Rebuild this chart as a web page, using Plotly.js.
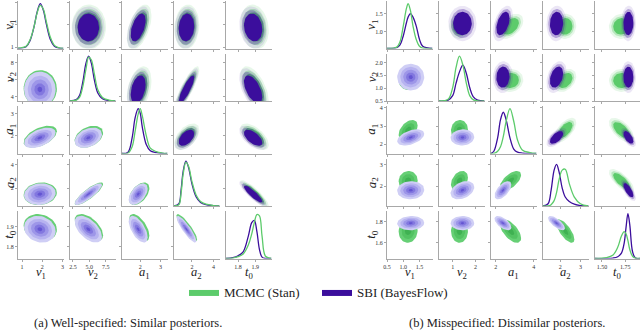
<!DOCTYPE html>
<html>
<head>
<meta charset="utf-8">
<script src="https://cdn.plot.ly/plotly-3.0.1.min.js"></script>
<style>html,body{margin:0;padding:0;background:#fff}#fig{width:640px;height:332px}</style>
</head>
<body>
<div id="fig"></div>
<script>
// parameter names, shared by both panels
var paramLabels = ['<i>v</i><sub>1</sub>', '<i>v</i><sub>2</sub>', '<i>a</i><sub>1</sub>', '<i>a</i><sub>2</sub>', '<i>t</i><sub>0</sub>'];
var seriesNames = ['MCMC (Stan)', 'SBI (BayesFlow)'];
var captions = ['(a) Well-specified: Similar posteriors.', '(b) Misspecified: Dissimilar posteriors.'];

// pair order for correlations: (v1,v2),(v1,a1),(v1,a2),(v1,t0),(v2,a1),(v2,a2),(v2,t0),(a1,a2),(a1,t0),(a2,t0)

// ---- (a) well-specified ----
var aMeanSBI  = [1.88, 4.85, 1.90, 1.50, 1.888];
var aMeanMCMC = [1.90, 4.93, 1.95, 1.53, 1.896];
var aSdSBI    = [0.30, 0.80, 0.18, 0.35, 0.026];
var aSdMCMC   = [0.31, 0.82, 0.19, 0.36, 0.026];
var aCorr     = [0.0, 0.5, 0.1, -0.15, 0.35, 0.85, -0.55, 0.5, -0.6, -0.88];

var aDiagX = [
  [0.8, 1.2, 1.4, 1.6, 1.75, 1.9, 2.05, 2.2, 2.4, 2.6, 2.8, 3.05],
  [2.05, 3.0, 3.5, 4.0, 4.5, 4.9, 5.3, 5.8, 6.3, 7.0, 8.0, 9.0],
  [1.1, 1.4, 1.6, 1.75, 1.9, 2.0, 2.1, 2.3, 2.5, 2.8, 3.1, 3.35],
  [0.35, 0.8, 1.0, 1.2, 1.45, 1.7, 2.0, 2.4, 2.8, 3.3, 4.0, 4.55],
  [1.73, 1.77, 1.8, 1.83, 1.86, 1.88, 1.895, 1.91, 1.925, 1.94, 1.96, 1.995]
];
var aDiagSBI = [
  [0, 0.04, 0.18, 0.5, 0.82, 1.0, 0.86, 0.55, 0.2, 0.05, 0.01, 0],
  [0, 0.03, 0.12, 0.42, 0.85, 1.0, 0.85, 0.45, 0.18, 0.05, 0.01, 0],
  [0, 0.03, 0.35, 0.8, 1.0, 0.9, 0.6, 0.2, 0.06, 0.02, 0, 0],
  [0, 0.05, 0.35, 0.78, 1.0, 0.85, 0.5, 0.2, 0.08, 0.03, 0.01, 0],
  [0, 0.02, 0.06, 0.15, 0.5, 0.8, 0.85, 0.6, 0.2, 0.03, 0, 0]
];
var aDiagMCMC = [
  [0.01, 0.05, 0.2, 0.5, 0.8, 0.96, 0.88, 0.6, 0.25, 0.07, 0.02, 0],
  [0, 0.02, 0.08, 0.32, 0.72, 0.98, 0.92, 0.58, 0.25, 0.08, 0.02, 0],
  [0, 0.01, 0.15, 0.5, 0.88, 1.0, 0.85, 0.4, 0.12, 0.04, 0.01, 0],
  [0, 0.03, 0.28, 0.72, 0.98, 0.88, 0.55, 0.24, 0.1, 0.04, 0.01, 0],
  [0, 0.01, 0.04, 0.1, 0.3, 0.55, 0.8, 0.98, 0.95, 0.5, 0.05, 0]
];
var aXTicks = [[1, 2, 3], [2.5, 5, 7.5], [1, 2, 3], [2, 4], [1.8, 1.9]];
var aXTickText = [['1', '2', '3'], ['2.5', '5.0', '7.5'], ['1', '2', '3'], ['2', '4'], ['1.8', '1.9']];
var aYTicks = [[1, 2, 3], [4, 6, 8], [2, 3], [2, 4], [1.8, 1.9]];
var aYTickText = [['1', '2', '3'], ['4', '6', '8'], ['2', '3'], ['2', '4'], ['1.8', '1.9']];

// ---- (b) misspecified ----
var bMeanSBI  = [1.23, 1.43, 2.38, 1.82, 1.785];
var bMeanMCMC = [1.15, 1.30, 2.78, 2.25, 1.71];
var bSdSBI    = [0.16, 0.20, 0.17, 0.16, 0.026];
var bSdMCMC   = [0.11, 0.14, 0.21, 0.17, 0.042];
var bCorr     = [0.0, 0.45, 0.05, 0.05, 0.05, 0.35, 0.0, 0.6, -0.6, -0.72];

var bDiagX = [
  [0.5, 0.8, 0.9, 1.0, 1.1, 1.15, 1.22, 1.3, 1.4, 1.5, 1.6, 1.9],
  [0.4, 0.8, 1.0, 1.15, 1.3, 1.45, 1.6, 1.75, 1.9, 2.1, 2.4],
  [1.75, 1.9, 2.1, 2.25, 2.4, 2.55, 2.75, 2.95, 3.15, 3.4, 3.8, 4.15],
  [1.15, 1.4, 1.55, 1.7, 1.82, 1.95, 2.1, 2.25, 2.45, 2.7, 3.0, 3.4],
  [1.42, 1.55, 1.62, 1.67, 1.71, 1.74, 1.76, 1.78, 1.8, 1.83, 1.86, 1.91]
];
var bDiagSBI = [
  [0, 0.02, 0.08, 0.28, 0.58, 0.7, 0.78, 0.7, 0.5, 0.2, 0.05, 0],
  [0, 0.02, 0.12, 0.4, 0.65, 0.8, 0.62, 0.3, 0.1, 0.02, 0],
  [0, 0.05, 0.35, 0.75, 0.92, 0.75, 0.35, 0.1, 0.03, 0.01, 0, 0],
  [0, 0.05, 0.35, 0.8, 0.93, 0.75, 0.4, 0.2, 0.1, 0.04, 0.01, 0],
  [0, 0, 0.01, 0.04, 0.12, 0.35, 0.7, 1.0, 0.75, 0.15, 0.01, 0]
];
var bDiagMCMC = [
  [0, 0.03, 0.15, 0.5, 0.9, 1.0, 0.85, 0.5, 0.2, 0.05, 0.01, 0],
  [0, 0.04, 0.3, 0.75, 1.0, 0.8, 0.4, 0.12, 0.03, 0, 0],
  [0, 0, 0.05, 0.15, 0.38, 0.72, 1.0, 0.72, 0.3, 0.08, 0.02, 0],
  [0, 0, 0.03, 0.12, 0.3, 0.6, 0.8, 0.82, 0.5, 0.2, 0.05, 0],
  [0, 0.02, 0.08, 0.25, 0.5, 0.6, 0.55, 0.4, 0.2, 0.05, 0.01, 0]
];
var bXTicks = [[0.5, 1, 1.5], [1, 2], [2, 4], [2, 3], [1.5, 1.75]];
var bXTickText = [['0.5', '1.0', '1.5'], ['1', '2'], ['2', '4'], ['2', '3'], ['1.50', '1.75']];
var bYTicks = [[1, 1.5], [0.5, 1, 1.5, 2], [2, 3, 4], [2, 3], [1.6, 1.8]];
var bYTickText = [['1.0', '1.5'], ['0.5', '1.0', '1.5', '2.0'], ['2', '3', '4'], ['2', '3'], ['1.6', '1.8']];

// axis ranges (style, not data)
var aXRange = [[0.8, 3.05], [2.05, 9.0], [1.1, 3.35], [0.35, 4.55], [1.73, 1.995]];
var aYRange = [[0.95, 3.05], [3.5, 9.05], [1.18, 3.36], [0.5, 4.5], [1.74, 1.98]];
var bXRange = [[0.5, 1.9], [0.4, 2.4], [1.75, 4.15], [1.15, 3.4], [1.42, 1.91]];
var bYRange = [[0.53, 1.86], [0.5, 2.35], [1.5, 4.1], [1.1, 3.27], [1.45, 1.9]];

var purple = '#3b0e9c', green = '#5ccb6b';
var font = 'Liberation Serif, Times New Roman, serif';
var densTop = 1.06;

var figs = [
  {mS: aMeanSBI, mM: aMeanMCMC, sS: aSdSBI, sM: aSdMCMC, corr: aCorr, dx: aDiagX, dS: aDiagSBI, dM: aDiagMCMC,
   xt: aXTicks, xtt: aXTickText, yt: aYTicks, ytt: aYTickText, xr: aXRange, yr: aYRange,
   cols: [18, 70, 122, 174, 226], ytitle: 10},
  {mS: bMeanSBI, mM: bMeanMCMC, sS: bSdSBI, sM: bSdMCMC, corr: bCorr, dx: bDiagX, dS: bDiagSBI, dM: bDiagMCMC,
   xt: bXTicks, xtt: bXTickText, yt: bYTicks, ytt: bYTickText, xr: bXRange, yr: bYRange,
   cols: [387, 439, 491, 543, 594.5], ytitle: 372}
];
var rowsTop = [1, 53.5, 106, 158.5, 211];
var W = 640, H = 332, pw = 45.5, ph = 47.5;

function pairIndex(i, j) {
  var idx = 0;
  for (var a = 0; a < 5; a++) for (var b = a + 1; b < 5; b++) {
    if (a === i && b === j) return idx;
    idx++;
  }
}

function ellipse(mx, my, sx, sy, rho, k) {
  var xs = [], ys = [], n = 48, q = Math.sqrt(1 - rho * rho);
  for (var i = 0; i <= n; i++) {
    var t = 2 * Math.PI * i / n, c = Math.cos(t), s = Math.sin(t);
    xs.push(mx + k * sx * c);
    ys.push(my + k * sy * (rho * c + q * s));
  }
  return {x: xs, y: ys};
}

var data = [];
var layout = {
  width: W, height: H, autosize: false,
  margin: {l: 0, r: 0, t: 0, b: 0},
  paper_bgcolor: '#fff', plot_bgcolor: '#fff',
  font: {family: font, color: '#222'},
  showlegend: true,
  legend: {orientation: 'h', x: 184 / W, y: 1 - 292 / H, xanchor: 'left', yanchor: 'middle',
           entrywidth: 88, entrywidthmode: 'pixels', font: {size: 13, family: font, color: '#222'},
           bgcolor: 'rgba(0,0,0,0)'},
  annotations: []
};

function addFill(xa, ya, e, color, opts) {
  data.push(Object.assign({
    type: 'scatter', mode: 'lines', x: e.x, y: e.y, xaxis: xa, yaxis: ya,
    fill: 'toself', fillcolor: color, line: {width: 0}, hoverinfo: 'skip', showlegend: false
  }, opts || {}));
}

var kdeSBI = [[2.6, '#cfcef5'], [2.0, '#b7b3f0'], [1.45, '#9d96e8'], [0.9, '#8277df'], [0.4, '#6455d2']];
var kdeMCMC = [[2.65, '#66cf75'], [1.8, '#52c262'], [0.9, '#3fb152']];
var scMCMC = [[3.2, 'rgba(92,203,107,0.15)'], [2.6, 'rgba(92,203,107,0.35)'], [2.1, green]];
var scSBI = [[3.1, 'rgba(59,14,156,0.10)'], [2.55, 'rgba(59,14,156,0.3)'], [2.05, purple]];

figs.forEach(function (F, f) {
  for (var r = 0; r < 5; r++) {
    for (var c = 0; c < 5; c++) {
      var idx = f * 25 + r * 5 + c + 1;
      var xa = 'x' + (idx === 1 ? '' : idx), ya = 'y' + (idx === 1 ? '' : idx);
      var axStyle = {showgrid: false, zeroline: false, showline: true, linecolor: '#a8a8a8', linewidth: 1,
                     ticks: 'outside', ticklen: 2, tickwidth: 1, tickcolor: '#a8a8a8',
                     tickfont: {size: 6, family: font, color: '#333'}, fixedrange: true};
      layout['xaxis' + (idx === 1 ? '' : idx)] = Object.assign({}, axStyle, {
        domain: [F.cols[c] / W, Math.min(1, (F.cols[c] + pw) / W)], anchor: ya,
        range: F.xr[c], tickmode: 'array', tickvals: F.xt[c], ticktext: F.xtt[c], showticklabels: r === 4
      });
      var yax = Object.assign({}, axStyle, {
        domain: [1 - (rowsTop[r] + ph) / H, 1 - rowsTop[r] / H], anchor: xa,
        range: F.yr[r], tickmode: 'array', tickvals: F.yt[r], ticktext: F.ytt[r], showticklabels: c === 0
      });
      if (r === c) {
        yax.range = [0, densTop];
        if (r === 0) {
          // the top-left density panel still carries the row's tick labels
          var yr = F.yr[0];
          yax.tickvals = F.yt[0].map(function (v) { return (v - yr[0]) / (yr[1] - yr[0]) * densTop; });
        } else {
          yax.ticks = ''; yax.tickvals = []; yax.showticklabels = false;
        }
      }
      layout['yaxis' + (idx === 1 ? '' : idx)] = yax;

      if (r === c) {
        data.push({type: 'scatter', mode: 'lines', x: F.dx[r], y: F.dS[r], xaxis: xa, yaxis: ya,
                   line: {color: purple, width: 1.3, shape: 'spline'}, hoverinfo: 'skip', showlegend: false});
        data.push({type: 'scatter', mode: 'lines', x: F.dx[r], y: F.dM[r], xaxis: xa, yaxis: ya,
                   line: {color: green, width: 1.3, shape: 'spline'}, hoverinfo: 'skip', showlegend: false});
      } else {
        var rho = F.corr[pairIndex(Math.min(r, c), Math.max(r, c))];
        var levM = r > c ? kdeMCMC : scMCMC;
        var levS = r > c ? kdeSBI : scSBI;
        levM.forEach(function (L, li) {
          var e = ellipse(F.mM[c], F.mM[r], F.sM[c], F.sM[r], rho, L[0]);
          var legendOpt = (f === 0 && r === 0 && c === 1 && li === levM.length - 1)
            ? {showlegend: true, name: seriesNames[0]} : {};
          addFill(xa, ya, e, L[1], legendOpt);
        });
        levS.forEach(function (L, li) {
          var e = ellipse(F.mS[c], F.mS[r], F.sS[c], F.sS[r], rho, L[0]);
          var legendOpt = (f === 0 && r === 0 && c === 1 && li === levS.length - 1)
            ? {showlegend: true, name: seriesNames[1]} : {};
          addFill(xa, ya, e, L[1], legendOpt);
        });
      }
    }
    // y-axis title for the row
    layout.annotations.push({text: paramLabels[r], xref: 'paper', yref: 'paper', x: F.ytitle / W,
      y: 1 - (rowsTop[r] + ph / 2) / H, showarrow: false, textangle: -90, xanchor: 'center', yanchor: 'middle',
      font: {size: 13, family: font, color: '#222'}});
  }
  for (var k = 0; k < 5; k++) {
    layout.annotations.push({text: paramLabels[k], xref: 'paper', yref: 'paper', x: (F.cols[k] + pw / 2) / W,
      y: 1 - 273 / H, showarrow: false, xanchor: 'center', yanchor: 'middle',
      font: {size: 12.5, family: font, color: '#222'}});
  }
  layout.annotations.push({text: captions[f], xref: 'paper', yref: 'paper', x: f === 0 ? 128 / W : 507 / W,
    y: 1 - 323 / H, showarrow: false, xanchor: 'center', yanchor: 'middle',
    font: {size: 12.5, family: font, color: '#222'}});
});

Plotly.newPlot('fig', data, layout, {displayModeBar: false, staticPlot: true});
</script>
</body>
</html>
